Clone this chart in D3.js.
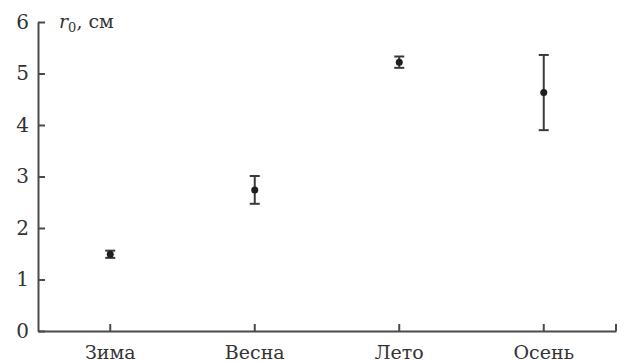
<!DOCTYPE html>
<html>
<head>
<meta charset="utf-8">
<script src="https://cdn.jsdelivr.net/npm/d3@7"></script>
<style>
  html, body { margin: 0; padding: 0; background: #fff; }
  svg { display: block; }
  text { font-family: "DejaVu Serif", "Liberation Serif", serif; }
</style>
</head>
<body>
<script>
// Seasonal mean radius r0 with error bars
const seasons = ["Зима", "Весна", "Лето", "Осень"];
const r0Mean  = [1.49, 2.74, 5.22, 4.63];
const r0Err   = [0.07, 0.27, 0.11, 0.73];
const yTicks  = [0, 1, 2, 3, 4, 5, 6];

const W = 624, H = 362;
const margin = { left: 38, right: 8, top: 22, bottom: 31 };
const axisColor = "#4a4a4a";
const markColor = "#1e1e1e";

const svg = d3.select("body").append("svg")
  .attr("width", W).attr("height", H);

const x = d3.scaleBand()
  .domain(seasons)
  .range([margin.left, W - margin.right])
  .padding(0);

const y = d3.scaleLinear()
  .domain([0, 6])
  .range([H - margin.bottom, margin.top]);

// Y axis: ticks point inward
const yAxis = svg.append("g")
  .attr("transform", `translate(${margin.left},0)`)
  .call(d3.axisLeft(y).tickValues(yTicks).tickFormat(d3.format("d"))
    .tickSize(-7).tickPadding(9).tickSizeOuter(0));

// X axis: ticks point upward at category centres
const xAxis = svg.append("g")
  .attr("transform", `translate(0,${H - margin.bottom})`)
  .call(d3.axisBottom(x).tickSize(-7).tickSizeOuter(0));

[yAxis, xAxis].forEach(g => {
  g.select(".domain").attr("stroke", axisColor).attr("stroke-width", 2);
  g.selectAll(".tick line").attr("stroke", axisColor).attr("stroke-width", 2);
  g.selectAll(".tick text")
    .attr("fill", "#333")
    .style("font-size", "19px");
});
yAxis.selectAll(".tick text").style("font-size", "20px");
xAxis.selectAll(".tick text").attr("y", 28).attr("dy", 0);

// small closing tick at the right end of the x axis
svg.append("line")
  .attr("x1", W - margin.right).attr("x2", W - margin.right)
  .attr("y1", y(0)).attr("y2", y(0) - 7)
  .attr("stroke", axisColor).attr("stroke-width", 2);

// Axis title: r0, см
const title = svg.append("text")
  .attr("x", margin.left + 21)
  .attr("y", margin.top + 6)
  .attr("fill", "#333")
  .style("font-size", "19px");
title.append("tspan").attr("font-style", "italic").text("r");
title.append("tspan").attr("dy", 4).style("font-size", "13px").text("0");
title.append("tspan").attr("dy", -4).text(", см");

// Error bars and points
const data = seasons.map((s, i) => ({ s, m: r0Mean[i], e: r0Err[i] }));
const cx = d => x(d.s) + x.bandwidth() / 2;
const cap = 5;

const g = svg.append("g");
const bars = g.selectAll("g.eb").data(data).join("g").attr("class", "eb");
bars.append("line")
  .attr("x1", cx).attr("x2", cx)
  .attr("y1", d => y(d.m + d.e)).attr("y2", d => y(d.m - d.e))
  .attr("stroke", "#3a3a3a").attr("stroke-width", 2);
bars.append("line")
  .attr("x1", d => cx(d) - cap).attr("x2", d => cx(d) + cap)
  .attr("y1", d => y(d.m + d.e)).attr("y2", d => y(d.m + d.e))
  .attr("stroke", "#3a3a3a").attr("stroke-width", 2);
bars.append("line")
  .attr("x1", d => cx(d) - cap).attr("x2", d => cx(d) + cap)
  .attr("y1", d => y(d.m - d.e)).attr("y2", d => y(d.m - d.e))
  .attr("stroke", "#3a3a3a").attr("stroke-width", 2);
bars.append("circle")
  .attr("cx", cx).attr("cy", d => y(d.m))
  .attr("r", 3.5)
  .attr("fill", markColor);
</script>
</body>
</html>
